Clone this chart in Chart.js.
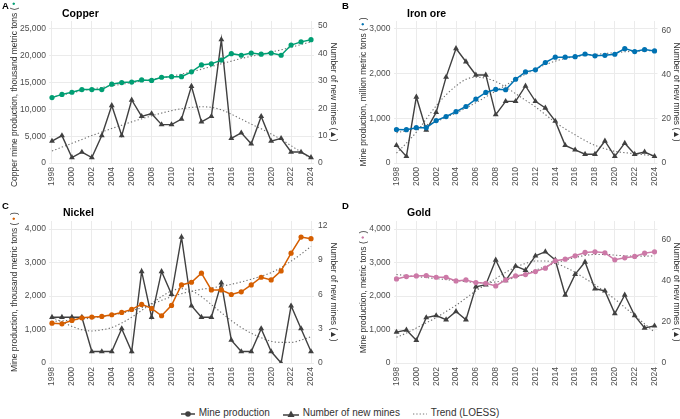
<!DOCTYPE html>
<html>
<head>
<meta charset="utf-8">
<script src="https://cdn.jsdelivr.net/npm/chart.js@4.4.1/dist/chart.umd.min.js"></script>
<style>
  body { margin: 0; background: #fff; font-family: "Liberation Sans", Arial, sans-serif; }
  #wrap { position: relative; width: 680px; height: 419px; overflow: hidden; }
  #wrap canvas { position: absolute; }
  #legend { position: absolute; left: 0; top: 406px; width: 680px; height: 14px; line-height: 14px;
            font-size: 10px; color: #333; text-align: center; white-space: nowrap; }
  #legend span { display: inline-block; vertical-align: middle; }
  #legend svg { vertical-align: middle; margin-right: 4px; }
  .item { margin: 0 5px; }
</style>
</head>
<body>
<div id="wrap">
  <canvas id="copperChart" width="340" height="200" style="left:0;top:0"></canvas>
  <canvas id="ironChart" width="340" height="200" style="left:340px;top:0"></canvas>
  <canvas id="nickelChart" width="340" height="200" style="left:0;top:200px"></canvas>
  <canvas id="goldChart" width="340" height="200" style="left:340px;top:200px"></canvas>
  <div id="legend">
    <span class="item"><svg width="14" height="8"><line x1="0" y1="4" x2="14" y2="4" stroke="#404040" stroke-width="1.5"/><circle cx="7" cy="4" r="2.8" fill="#404040"/></svg>Mine production</span>
    <span class="item"><svg width="16" height="8"><line x1="0" y1="5" x2="16" y2="5" stroke="#404040" stroke-width="1.5"/><polygon points="8,0.5 11.5,7 4.5,7" fill="#404040"/></svg>Number of new mines</span>
    <span class="item"><svg width="14" height="8"><line x1="0" y1="4" x2="14" y2="4" stroke="#777" stroke-width="1" stroke-dasharray="1.3,2"/></svg>Trend (LOESS)</span>
  </div>
</div>
<script>
const years = [1998, 1999, 2000, 2001, 2002, 2003, 2004, 2005, 2006, 2007, 2008, 2009, 2010,
  2011, 2012, 2013, 2014, 2015, 2016, 2017, 2018, 2019, 2020, 2021, 2022, 2023, 2024];

// copper, thousand metric tons / count
const copperProduction = [12200, 12800, 13200, 13700, 13700, 13700, 14700, 15000, 15100, 15500, 15400, 16000, 16100,
  16100, 17000, 18300, 18500, 19200, 20400, 20100, 20500, 20300, 20500, 20100, 22000, 22600, 23000];
const copperNewMines = [8, 10, 2, 4, 2, 10, 21, 10, 23, 17, 18, 14, 14, 16, 28, 15, 17, 45, 9, 11, 7, 17, 8, 9, 4, 4, 2];
const copperProductionTrend = [12300, 12700, 13100, 13500, 13800, 14100, 14400, 14700, 15000, 15300, 15600, 15900, 16200,
  16600, 17000, 17500, 18000, 18500, 19000, 19500, 19900, 20300, 20700, 21100, 21600, 22100, 22600];
const copperMinesTrend = [4.4, 5.8, 7.2, 8.6, 10, 11.3, 12.6, 13.8, 15, 16.1, 17.2, 18.2, 19.1,
  19.8, 20.3, 20.5, 20.3, 19.4, 17.8, 16.0, 14.2, 12.5, 10.6, 8.6, 6.3, 4.0, 1.5];

// iron ore, million metric tons
const ironProduction = [750, 745, 790, 790, 950, 1040, 1150, 1265, 1430, 1580, 1650, 1640, 1875,
  2040, 2085, 2250, 2370, 2370, 2380, 2440, 2400, 2410, 2435, 2560, 2495, 2540, 2510];
const ironNewMines = [8, 3, 30, 15, 23, 39, 52, 46, 40, 40, 22, 28, 28, 35, 28, 25, 19, 8, 6, 4, 4, 10, 3, 9, 4, 5, 3];
const ironProductionTrend = [680, 720, 780, 850, 930, 1020, 1120, 1230, 1350, 1480, 1610, 1740, 1870,
  1990, 2100, 2200, 2280, 2340, 2380, 2410, 2430, 2450, 2470, 2490, 2500, 2510, 2520];
const ironMinesTrend = [4.5, 9, 14, 20, 26, 31, 35, 38, 39, 38.5, 37, 34.5, 31.5,
  28.5, 25.5, 22, 18.5, 15.5, 12.8, 10.2, 8, 6.5, 5.3, 4.7, 4.2, 3.7, 3.3];

// nickel, thousand metric tons
const nickelProduction = [1190, 1170, 1270, 1350, 1370, 1390, 1440, 1510, 1600, 1750, 1630, 1410, 1720,
  2330, 2410, 2680, 2180, 2180, 2045, 2125, 2330, 2560, 2480, 2750, 3280, 3760, 3710];
const nickelNewMines = [4, 4, 4, 4, 1, 1, 1, 3, 1, 8, 4, 8, 6, 11, 5, 4, 4, 7, 2, 1, 1, 3, 1, 0, 5, 3, 1];
const nickelProductionTrend = [1240, 1260, 1280, 1310, 1340, 1380, 1430, 1490, 1560, 1650, 1760, 1870, 1980,
  2070, 2140, 2200, 2240, 2290, 2350, 2420, 2500, 2590, 2700, 2850, 3040, 3250, 3480];
const nickelMinesTrend = [4.0, 3.6, 3.2, 2.9, 2.8, 2.9, 3.1, 3.5, 4.0, 4.6, 5.2, 5.8, 6.3,
  6.5, 6.3, 5.8, 5.1, 4.4, 3.7, 3.1, 2.6, 2.2, 1.9, 1.8, 1.8, 2.0, 2.3];

// gold, metric tons
const goldProduction = [2510, 2580, 2600, 2610, 2560, 2560, 2450, 2480, 2400, 2380, 2300, 2480, 2600,
  2640, 2730, 2830, 3050, 3100, 3200, 3300, 3320, 3290, 3080, 3140, 3180, 3280, 3320];
const goldNewMines = [15, 16, 11, 22, 23, 21, 25, 21, 37, 38, 50, 40, 47, 45, 52, 54, 50, 33, 43, 49, 36, 35, 24, 33, 23, 17, 18];
const goldProductionTrend = [2640, 2610, 2580, 2550, 2520, 2490, 2460, 2430, 2400, 2400, 2420, 2470, 2560,
  2660, 2770, 2880, 2980, 3070, 3150, 3210, 3240, 3240, 3220, 3200, 3190, 3190, 3200];
const goldMinesTrend = [12.5, 14.5, 17, 19.5, 22, 25, 28, 31.5, 35, 38, 41, 44, 46.5,
  48.3, 49.5, 49.5, 48.5, 46.5, 44, 41, 38, 34.5, 31, 27, 23, 19, 15];

// axis ticks
const copperTicks = [0, 5000, 10000, 15000, 20000, 25000];
const tonTicks3k = [0, 1000, 2000, 3000];
const tonTicks4k = [0, 1000, 2000, 3000, 4000];
const minesTicks50 = [0, 10, 20, 30, 40, 50];
const minesTicks60 = [0, 20, 40, 60];
const minesTicks12 = [0, 3, 6, 9, 12];

const FONT = '"Liberation Sans", Arial, sans-serif';
Chart.defaults.font.family = FONT;
const MINES = '#404040';
const TREND = '#6f6f6f';
const GRID = '#ebebeb';

const pts = arr => years.map((yr, i) => ({ x: yr, y: arr[i] }));
const fixTicks = list => s => { s.ticks = list.map(v => ({ value: v })); };

// letters, titles, and the two rotated axis titles
const panelText = {
  id: 'panelText',
  afterDraw(chart, args, o) {
    const { ctx, chartArea } = chart;
    const mid = (chartArea.top + chartArea.bottom) / 2;
    ctx.save();
    ctx.fillStyle = '#000';
    ctx.textBaseline = 'alphabetic';
    ctx.textAlign = 'left';
    ctx.font = 'bold 9.5px ' + FONT;
    ctx.fillText(o.letter, 2, 9);
    ctx.font = 'bold 10.5px ' + FONT;
    ctx.fillText(o.title, o.titleX, o.titleY);

    // left title, reading upwards, with coloured dot
    ctx.font = '8.5px ' + FONT;
    ctx.textBaseline = 'middle';
    const parts = [[o.leftLabel + ' ( ', '#333'], ['\u2022', o.color], [' )', '#333']];
    const total = parts.reduce((s, p) => s + ctx.measureText(p[0]).width, 0);
    ctx.save();
    ctx.translate(o.leftX, mid);
    ctx.rotate(-Math.PI / 2);
    let x = -total / 2;
    parts.forEach(p => {
      ctx.fillStyle = p[1];
      ctx.fillText(p[0], x, 0);
      x += ctx.measureText(p[0]).width;
    });
    ctx.restore();

    // right title, reading downwards
    ctx.save();
    ctx.translate(o.rightX, mid);
    ctx.rotate(Math.PI / 2);
    ctx.fillStyle = '#333';
    ctx.textAlign = 'center';
    ctx.fillText('Number of new mines (\u25B2)', 0, 0);
    ctx.restore();
    ctx.restore();
  }
};

function makeChart(id, p) {
  const tickFont = { size: 8.5 };
  return new Chart(document.getElementById(id), {
    type: 'line',
    data: {
      datasets: [
        { data: pts(p.production), yAxisID: 'y', borderColor: p.color, backgroundColor: p.color,
          borderWidth: 1.5, pointRadius: 2.6, pointBorderWidth: 0, tension: 0 },
        { data: pts(p.mines), yAxisID: 'y2', borderColor: MINES, backgroundColor: MINES,
          borderWidth: 1.4, pointStyle: 'triangle', pointRadius: 3.4, pointBorderWidth: 0, tension: 0 },
        { data: pts(p.productionTrend), yAxisID: 'y', borderColor: TREND, borderWidth: 1.1,
          borderDash: [1.3, 2.2], pointRadius: 0, cubicInterpolationMode: 'monotone' },
        { data: pts(p.minesTrend), yAxisID: 'y2', borderColor: TREND, borderWidth: 1.1,
          borderDash: [1.3, 2.2], pointRadius: 0, cubicInterpolationMode: 'monotone' }
      ]
    },
    options: {
      responsive: false,
      animation: false,
      layout: { padding: { top: 21, left: 0, right: 0, bottom: 0 } },
      plugins: {
        legend: { display: false },
        tooltip: { enabled: false },
        panelText: p.text
      },
      scales: {
        x: {
          type: 'linear', min: 1997.7, max: 2024.3,
          afterFit: s => { s.height = 37; },
          grid: { color: GRID, drawTicks: false },
          border: { display: false },
          ticks: { stepSize: 2, includeBounds: false, autoSkip: false, minRotation: 90, maxRotation: 90,
                   padding: 4, color: '#4d4d4d', font: tickFont, callback: v => String(v) }
        },
        y: {
          position: 'left', min: 0, max: p.leftMax,
          afterBuildTicks: fixTicks(p.leftTicks),
          afterFit: s => { s.width = p.chartLeft; },
          grid: { color: GRID, drawTicks: false },
          border: { display: false },
          ticks: { padding: 3, color: '#4d4d4d', font: tickFont,
                   callback: v => v.toLocaleString('en-US') }
        },
        y2: {
          position: 'right', min: 0, max: p.rightMax,
          afterBuildTicks: fixTicks(p.rightTicks),
          afterFit: s => { s.width = 340 - p.chartRight; },
          grid: { display: false, drawTicks: false },
          border: { display: false },
          ticks: { padding: 4, color: '#4d4d4d', font: tickFont }
        }
      }
    },
    plugins: [panelText]
  });
}

makeChart('copperChart', {
  color: '#009E73', production: copperProduction, mines: copperNewMines,
  productionTrend: copperProductionTrend, minesTrend: copperMinesTrend,
  leftMax: 26490, leftTicks: copperTicks, rightMax: 51.8, rightTicks: minesTicks50, chartLeft: 49, chartRight: 314,
  text: { letter: 'A', title: 'Copper', titleX: 62, titleY: 17, color: '#009E73', leftX: 15, rightX: 333,
          leftLabel: 'Copper mine production, thousand metric tons' }
});
makeChart('ironChart', {
  color: '#0072B2', production: ironProduction, mines: ironNewMines,
  productionTrend: ironProductionTrend, minesTrend: ironMinesTrend,
  leftMax: 3179, leftTicks: tonTicks3k, rightMax: 64.5, rightTicks: minesTicks60, chartLeft: 53.5, chartRight: 317.5,
  text: { letter: 'B', title: 'Iron ore', titleX: 67, titleY: 17, color: '#0072B2', leftX: 24, rightX: 336,
          leftLabel: 'Mine production, million metric tons' }
});
makeChart('nickelChart', {
  color: '#D55E00', production: nickelProduction, mines: nickelNewMines,
  productionTrend: nickelProductionTrend, minesTrend: nickelMinesTrend,
  leftMax: 4239, leftTicks: tonTicks4k, rightMax: 12.41, rightTicks: minesTicks12, chartLeft: 49, chartRight: 314,
  text: { letter: 'C', title: 'Nickel', titleX: 63, titleY: 16, color: '#D55E00', leftX: 15, rightX: 333,
          leftLabel: 'Mine production, thousand metric tons' }
});
makeChart('goldChart', {
  color: '#CC79A7', production: goldProduction, mines: goldNewMines,
  productionTrend: goldProductionTrend, minesTrend: goldMinesTrend,
  leftMax: 4239, leftTicks: tonTicks4k, rightMax: 68.9, rightTicks: minesTicks60, chartLeft: 53.5, chartRight: 317.5,
  text: { letter: 'D', title: 'Gold', titleX: 67, titleY: 16, color: '#CC79A7', leftX: 24, rightX: 336,
          leftLabel: 'Mine production, metric tons' }
});
</script>
</body>
</html>
